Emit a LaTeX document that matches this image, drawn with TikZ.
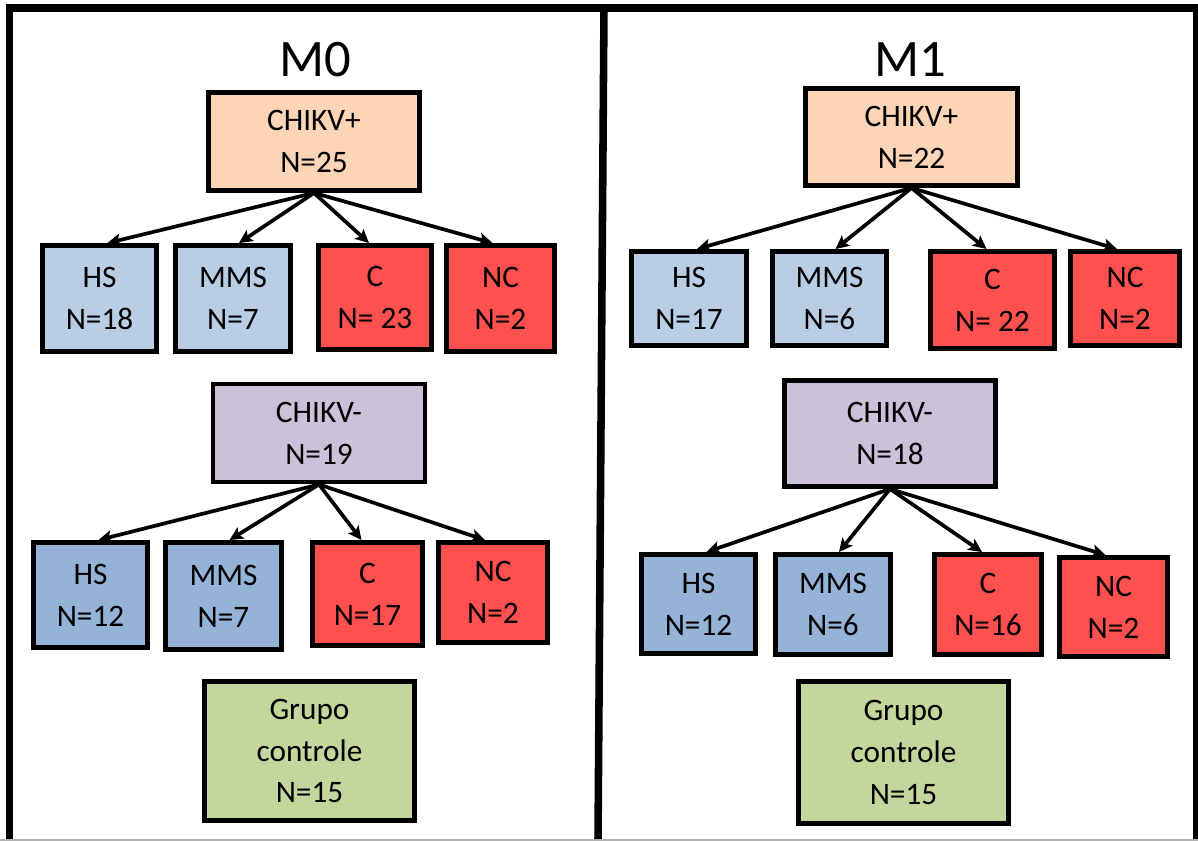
\documentclass[tikz,border=0pt]{standalone}
\usepackage{fontspec}
\setmainfont{Carlito}
\usetikzlibrary{arrows.meta}

\definecolor{peach}{HTML}{FBD5B5}
\definecolor{lilac}{HTML}{CCC1DA}
\definecolor{paleblue}{HTML}{B9CDE5}
\definecolor{midblue}{HTML}{95B3D7}
\definecolor{redbox}{HTML}{FF5050}
\definecolor{olive}{HTML}{C3D69B}

\tikzset{wh/.style 2 args={minimum width=(#1-5)*0.02cm, minimum height=(#2-5)*0.02cm}}

\begin{document}
\begin{tikzpicture}[> = {Stealth[length=0.27cm, width=0.26cm, inset=0.06cm]}, % arrow head style
                x = 0.02cm, y = -0.02cm, % one unit is one pixel of the layout
                line join = miter
            ]

            \tikzstyle{every node}=[draw = black, rectangle, line width = 2.8pt,
            inner sep = 0pt, align = center, font = \fontsize{17.8}{23.8}\selectfont]
            \tikzstyle{title}=[draw = none, font = \fontsize{30}{36}\selectfont]
            \tikzstyle{link}=[->, line width = 2.1pt]

            \useasboundingbox (0,0) rectangle (1198,841);

            % frame and divider
            \draw[line width = 4.3pt] (9.5,841) -- (9.5,8) -- (1196.5,8) -- (1196.5,841);
            \draw[line width = 4.3pt] (604,8) -- (598,841);
            \draw[gray!60, line width = 0.8pt] (0,840) -- (1198,840);

            % M0
            \node (t0) [title] at (315,60) {M0};
            \node (p0) [fill = peach, wh={216}{103}] at (314,141.5) {CHIKV+\\N=25};
            \node (hsp0) [fill = paleblue, wh={119}{111}] at (99.5,298.5) {HS\\N=18};
            \node (mmsp0) [fill = paleblue, wh={120}{111}] at (233,298.5) {MMS\\N=7};
            \node (cp0) [fill = redbox, wh={118}{109}] at (375,297.5) {C\\N= 23};
            \node (ncp0) [fill = redbox, wh={113}{111}] at (500.5,298.5) {NC\\N=2};

            \node (n0) [fill = lilac, wh={217}{103}] at (319,433) {CHIKV-\\N=19};
            \node (hsn0) [fill = midblue, wh={119}{110}] at (90.5,595) {HS\\N=12};
            \node (mmsn0) [fill = midblue, wh={121}{112}] at (223.5,596) {MMS\\N=7};
            \node (cn0) [fill = redbox, wh={115}{108}] at (367.5,594) {C\\N=17};
            \node (ncn0) [fill = redbox, wh={114}{105}] at (493,592.5) {NC\\N=2};

            \node (g0) [fill = olive, wh={215}{144}] at (309.5,751) {Grupo\\controle\\N=15};

            % M1
            \node (t1) [title] at (910,60) {M1};
            \node (p1) [fill = peach, wh={217}{102}] at (911.5,137) {CHIKV+\\N=22};
            \node (hsp1) [fill = paleblue, wh={120}{99}] at (689,298.5) {HS\\N=17};
            \node (mmsp1) [fill = paleblue, wh={119}{99}] at (829.5,298.5) {MMS\\N=6};
            \node (cp1) [fill = redbox, wh={129}{102}] at (992.5,300) {C\\N= 22};
            \node (ncp1) [fill = redbox, wh={114}{99}] at (1125,298.5) {NC\\N=2};

            \node (n1) [fill = lilac, wh={216}{111}] at (890,433.5) {CHIKV-\\N=18};
            \node (hsn1) [fill = midblue, wh={119}{104}] at (698.5,604) {HS\\N=12};
            \node (mmsn1) [fill = midblue, wh={120}{105}] at (833,604.5) {MMS\\N=6};
            \node (cn1) [fill = redbox, wh={112}{105}] at (988,604.5) {C\\N=16};
            \node (ncn1) [fill = redbox, wh={113}{104}] at (1113.5,607) {NC\\N=2};

            \node (g1) [fill = olive, wh={215}{147}] at (903.5,752.5) {Grupo\\controle\\N=15};

            % arrows, tips a little towards the parent
            \foreach \s in {p0,n0,p1,n1}{
                \foreach \t/\d in {hs/8,mms/6,c/-6,nc/-8}{
                    \path[link] (\s.south) edge ([xshift=\d*0.02cm]\t\s.north);
                }
            }
        \end{tikzpicture}
\end{document}
